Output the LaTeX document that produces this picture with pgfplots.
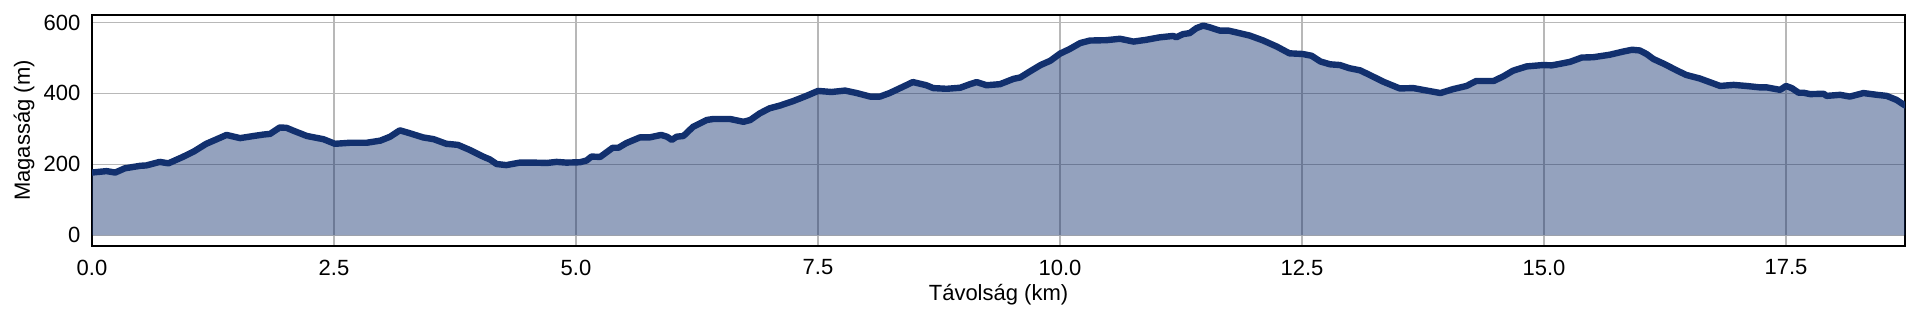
\documentclass[border=0pt]{standalone}
\usepackage{fontspec}
\setmainfont{Liberation Sans}
\usepackage{pgfplots}
\pgfplotsset{compat=1.18}
\usepackage{pgfplotstable}
\definecolor{navy}{RGB}{18,48,110}
\pgfplotstableread{
x y
0 177
0.15 181
0.24 177
0.34 189
0.50 196
0.56 197
0.70 207
0.79 203
0.93 220
1.05 236
1.18 258
1.29 271
1.39 283
1.53 274
1.67 280
1.77 284
1.84 286
1.94 304
2.01 303
2.08 295
2.22 280
2.39 271
2.51 258
2.67 261
2.84 261
2.98 267
3.08 278
3.18 296
3.28 288
3.42 276
3.53 271
3.66 258
3.78 255
3.90 241
4.04 222
4.11 214
4.18 201
4.28 198
4.42 205
4.56 205
4.70 204
4.80 207
4.90 205
5.04 206
5.11 211
5.16 222
5.25 221
5.38 247
5.44 247
5.52 260
5.66 276
5.76 276
5.88 283
5.94 278
5.99 269
6.04 278
6.11 280
6.21 306
6.35 325
6.42 328
6.59 328
6.73 320
6.80 325
6.90 344
7.00 358
7.11 366
7.25 379
7.38 393
7.50 407
7.64 404
7.78 408
7.90 401
8.04 391
8.14 391
8.24 401
8.38 419
8.48 432
8.62 423
8.69 415
8.83 413
8.97 416
9.07 426
9.14 432
9.24 423
9.38 426
9.52 441
9.59 445
9.69 462
9.80 480
9.90 492
10.00 512
10.10 525
10.21 542
10.31 549
10.48 550
10.62 554
10.76 546
10.89 551
11.03 558
11.17 562
11.20 558
11.27 567
11.34 570
11.41 584
11.48 591
11.55 586
11.65 577
11.74 577
11.82 572
11.96 563
12.10 549
12.24 532
12.37 513
12.51 511
12.60 506
12.69 490
12.79 482
12.89 480
12.99 471
13.10 465
13.20 452
13.34 433
13.51 414
13.65 415
13.79 408
13.93 401
14.06 412
14.20 421
14.30 435
14.48 435
14.58 448
14.68 464
14.82 476
14.99 480
15.08 479
15.16 483
15.27 489
15.39 501
15.51 502
15.68 509
15.82 518
15.91 523
15.99 521
16.06 511
16.13 497
16.25 482
16.37 465
16.47 452
16.61 442
16.71 432
16.82 421
16.96 424
17.09 421
17.23 417
17.30 417
17.44 410
17.50 421
17.56 415
17.63 402
17.68 402
17.75 398
17.89 399
17.92 393
18.06 396
18.16 391
18.30 401
18.44 396
18.54 393
18.64 382
18.73 366
}\profile
\begin{document}
\fontsize{11}{13}\selectfont
\begin{tikzpicture}
\begin{axis}[
  scale only axis, width=906.5pt, height=115.5pt,
  xmin=0, xmax=18.73, ymin=-30, ymax=621,
  xtick={0,2.5,5,7.5,10,12.5,15,17.5},
  ytick={0,200,400,600},
  /pgf/number format/assume math mode=true,
  xticklabel style={/pgf/number format/fixed, /pgf/number format/fixed zerofill, /pgf/number format/precision=1, yshift=-3pt},
  yticklabel style={xshift=-2pt},
  major tick length=0pt,
  grid=major,
  major grid style={color=black!28, line width=0.65pt},
  axis line style={line width=1.2pt, black},
  tick label style={font=\fontsize{11}{13}\selectfont},
  xlabel={Távolság (km)}, ylabel={Magasság (m)},
  label style={font=\fontsize{11}{13}\selectfont},
  xlabel style={at={(axis description cs:0.5,-0.212)}, anchor=center},
  ylabel style={at={(axis description cs:-0.0375,0.5)}, anchor=center},
]
\addplot[draw=none, fill=navy, fill opacity=0.45] table[x=x,y=y] {\profile} \closedcycle;
\addplot[navy, line width=3.2pt, line join=round, line cap=round] table[x=x,y=y] {\profile};
\end{axis}
\pgfresetboundingbox
\path[use as bounding box] (-46pt,-37.5pt) rectangle (914pt,123pt);
\end{tikzpicture}
\end{document}
